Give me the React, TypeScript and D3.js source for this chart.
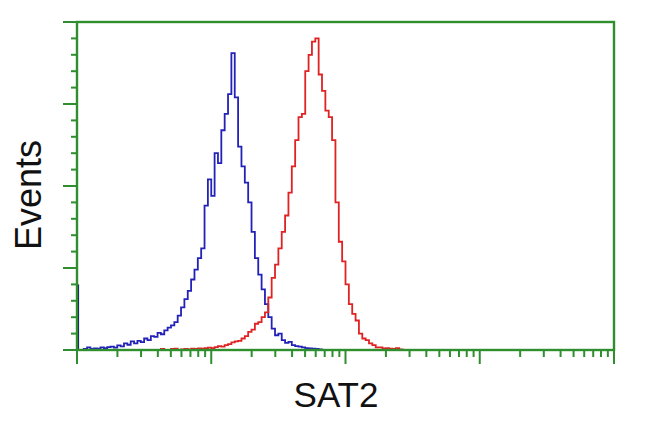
import React from "react";
import * as d3 from "d3";

// Histogram channels: 40 channels per decade, 4 decades (1 .. 10^4)
const channelsPerDecade = 40;
const xTickDecades = [1, 10, 100, 1000, 10000];
const yMax = 100;
const yTickValues = [0, 25, 50, 75, 100];
const yMinorStep = 5;

// Off-scale events piled at the first channel (blue control)
const blueClamped = 20;

// Blue (control) histogram, starting at channel blueStart
const blueStart = 2;
const blueCounts = [
  0.3, 0.8, 0.3, 0.5, 0.4, 0.8, 0.6, 0.9, 1.0, 0.7,
  1.4, 1.1, 2.0, 1.6, 2.6, 2.0, 2.8, 2.4, 3.5, 3.0,
  4.2, 4.0, 5.2, 4.8, 6.0, 6.8, 7.5, 8.5, 10.5, 13,
  15.5, 18, 21.5, 24.5, 28, 31, 44, 52, 47, 60,
  57, 67, 72, 78, 90.5, 77, 62, 56, 51, 45,
  36, 28, 23, 18.5, 14, 10, 6.5, 4.5, 5, 3,
  2.2, 2.5, 1.5, 1.2, 1.0, 0.8, 0.6, 0.5, 0.4, 0.3, 0.2,
];

// Red (SAT2 stained) histogram, starting at channel redStart
const redStart = 25;
const redCounts = [
  0.3, 0, 0, 0.3, 0.4, 0, 0.2, 0.3, 0.2, 0.4,
  0.3, 0.5, 0.4, 0.6, 0.7, 0.6, 0.9, 1.2, 1.0, 1.5,
  1.8, 2.3, 2.6, 2.8, 3.5, 4.2, 5.5, 6.2, 8.0, 8.5,
  10, 11.5, 16, 22, 26, 31, 36, 41, 48, 56,
  64, 71, 72, 85, 90, 94, 95, 84, 79, 73,
  71, 64, 45, 33, 27, 20, 14, 11, 9, 5,
  3.5, 3, 2, 1.5, 0.8, 0.8, 0.5, 0.6, 0.4, 0.3, 0.6, 0.2,
];

const W = 650;
const H = 432;
const left = 77;
const right = 614;
const top = 22;
const bottom = 350;
const green = "#2f8f2f";

const x = d3.scaleLog().domain([1, 10000]).range([left, right]);
const y = d3.scaleLinear().domain([0, yMax]).range([bottom, top]);

function edge(c: number) {
  return Math.pow(10, c / channelsPerDecade);
}

function stepPath(start: number, counts: number[]) {
  const pts: [number, number][] = [];
  pts.push([x(edge(start)), y(0)]);
  counts.forEach((v, i) => {
    pts.push([x(edge(start + i)), y(v)]);
    pts.push([x(edge(start + i + 1)), y(v)]);
  });
  pts.push([x(edge(start + counts.length)), y(0)]);
  return d3.line()(pts) as string;
}

export default function App() {
  const minorX: number[] = [];
  for (let d = 0; d < 4; d++) {
    for (let k = 2; k <= 9; k++) minorX.push(k * Math.pow(10, d));
  }
  const minorY: number[] = [];
  for (let v = 0; v <= yMax; v += yMinorStep) {
    if (!yTickValues.includes(v)) minorY.push(v);
  }
  return (
    <svg
      width={W}
      height={H}
      style={{ position: "absolute", left: 0, top: 0, background: "#fff" }}
    >
      <rect x={0} y={0} width={W} height={H} fill="#fff" />
      {/* histograms */}
      <path
        d={stepPath(blueStart, blueCounts)}
        fill="none"
        stroke="#2222b8"
        strokeWidth={1.8}
      />
      <path
        d={stepPath(redStart, redCounts)}
        fill="none"
        stroke="#e02222"
        strokeWidth={1.8}
      />
      <line
        x1={x(1) + 1}
        x2={x(1) + 1}
        y1={y(0)}
        y2={y(blueClamped)}
        stroke="#14146e"
        strokeWidth={2.2}
      />
      {/* frame */}
      <rect
        x={left}
        y={top}
        width={right - left}
        height={bottom - top}
        fill="none"
        stroke={green}
        strokeWidth={2.4}
      />
      {/* y ticks */}
      {yTickValues.map((v) => (
        <line
          key={"ym" + v}
          x1={left - 14}
          x2={left}
          y1={y(v)}
          y2={y(v)}
          stroke={green}
          strokeWidth={2}
        />
      ))}
      {minorY.map((v) => (
        <line
          key={"yn" + v}
          x1={left - 6}
          x2={left}
          y1={y(v)}
          y2={y(v)}
          stroke={green}
          strokeWidth={2}
        />
      ))}
      {/* x ticks */}
      {xTickDecades.map((v) => (
        <line
          key={"xm" + v}
          x1={x(v)}
          x2={x(v)}
          y1={bottom}
          y2={bottom + 14}
          stroke={green}
          strokeWidth={2}
        />
      ))}
      {minorX.map((v) => (
        <line
          key={"xn" + v}
          x1={x(v)}
          x2={x(v)}
          y1={bottom}
          y2={bottom + 7}
          stroke={green}
          strokeWidth={2}
        />
      ))}
      {/* labels */}
      <text
        x={336}
        y={407}
        textAnchor="middle"
        fontFamily="Liberation Sans, Arial, sans-serif"
        fontSize={35}
        fill="#111"
      >
        SAT2
      </text>
      <text
        transform="translate(41,195) rotate(-90)"
        textAnchor="middle"
        fontFamily="Liberation Sans, Arial, sans-serif"
        fontSize={36}
        fill="#111"
      >
        Events
      </text>
    </svg>
  );
}
